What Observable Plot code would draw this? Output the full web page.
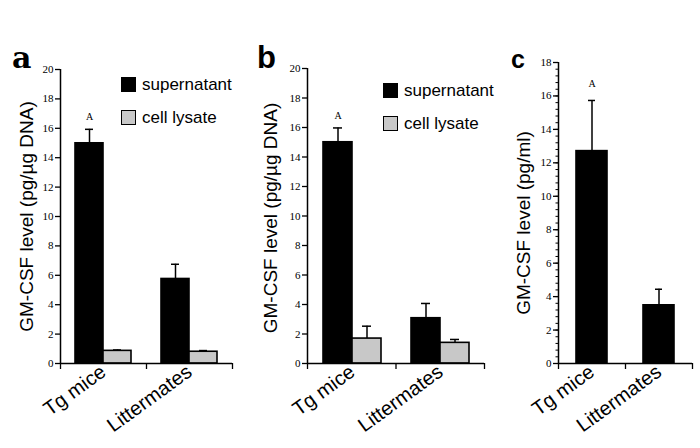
<!DOCTYPE html>
<html>
<head>
<meta charset="utf-8">
<script src="https://cdn.jsdelivr.net/npm/d3@7"></script>
<script src="https://cdn.jsdelivr.net/npm/@observablehq/plot@0.6"></script>
<style>
  body { margin: 0; background: #fff; }
  #fig { position: relative; width: 700px; height: 448px; background: #fff; overflow: hidden;
         font-family: "Liberation Sans", Arial, sans-serif; color: #000; }
  .layer { position: absolute; top: 0; }
  .letter { position: absolute; font-weight: bold; line-height: 1; white-space: nowrap; }
  .legend { position: absolute; font-size: 17px; line-height: 1; }
  .legend .row { display: flex; align-items: center; height: 15px; margin-bottom: 18px; white-space: nowrap; }
  .legend .sw { box-sizing: border-box; width: 15px; height: 15px; border: 1.5px solid #000; margin-right: 6px; }
</style>
</head>
<body>
<div id="fig"></div>
<script>
// Groups on the x axis and the two sample types
const groups = ["Tg mice", "Littermates"];
const seriesNames = ["supernatant", "cell lysate"];
const seriesColors = ["#000000", "#c8c8c8"];
const significance = ["A", ""];

// a: GM-CSF (pg/µg DNA)
const aSupernatant = [14.98, 5.75];
const aSupernatantErr = [0.95, 1.0];
const aLysate = [0.86, 0.8];
const aLysateErr = [0.06, 0.08];

// b: GM-CSF (pg/µg DNA)
const bSupernatant = [15.0, 3.07];
const bSupernatantErr = [0.97, 1.0];
const bLysate = [1.69, 1.4];
const bLysateErr = [0.84, 0.23];

// c: GM-CSF (pg/ml)
const cSupernatant = [12.7, 3.48];
const cSupernatantErr = [3.03, 0.96];

// Axis ticks
const yTicksAB = [0, 2, 4, 6, 8, 10, 12, 14, 16, 18, 20];
const yTicksC = [0, 2, 4, 6, 8, 10, 12, 14, 16, 18];
const yTitleAB = "GM-CSF level (pg/µg DNA)";
const yTitleC = "GM-CSF level (pg/ml)";

const fig = document.getElementById("fig");

function drawPanel(p) {
  const rows = groups.flatMap((g, i) =>
    p.series.map((s, j) => ({
      group: g,
      series: s,
      value: p.values[j][i],
      err: p.errors[j][i],
      label: j === 0 ? significance[i] : ""
    }))
  );
  const top = d => d.value + d.err;
  const dims = {
    width: p.width,
    height: 448,
    marginLeft: p.marginLeft,
    marginRight: p.marginRight,
    marginTop: p.marginTop,
    marginBottom: 85
  };

  // Bars, error bars, group labels
  const bars = Plot.plot({
    ...dims,
    style: { background: "transparent", overflow: "visible" },
    facet: { marginTop: 0, marginRight: 0, marginBottom: 0, marginLeft: 0 },
    fx: { domain: groups, padding: 0, label: null },
    x: { domain: p.series, paddingInner: 0, paddingOuter: p.paddingOuter, axis: null },
    y: { domain: [0, p.yMax], axis: null },
    color: { domain: seriesNames, range: seriesColors },
    marks: [
      Plot.barY(rows, { fx: "group", x: "series", y1: 0, y2: "value", fill: "series", stroke: "#000", strokeWidth: 1.6 }),
      Plot.ruleX(rows, { fx: "group", x: "series", y1: "value", y2: top, stroke: "#000", strokeWidth: 1.5 }),
      Plot.tickY(rows, { fx: "group", x: "series", y: top, inset: p.capInset, stroke: "#000", strokeWidth: 1.5 }),
      Plot.text(rows.filter(d => d.label), {
        fx: "group", x: "series", y: top, text: "label", dy: -p.labelGap,
        lineAnchor: "bottom", fontSize: 10, fontFamily: "Liberation Serif", fill: "#000"
      }),
      Plot.axisFx({
        anchor: "bottom", tickSize: 0, tickPadding: 6, tickRotate: -36,
        fontSize: 20, fontFamily: "Liberation Sans", fill: "#000", label: null
      })
    ]
  });

  // Axis lines, ticks and the y-axis title
  const axes = Plot.plot({
    ...dims,
    style: { background: "transparent", overflow: "visible" },
    x: { domain: [0, groups.length] },
    y: { domain: [0, p.yMax] },
    marks: [
      Plot.axisY({ ticks: p.yTicks, tickSize: 5, tickPadding: 2, fontSize: 11, fontFamily: "Liberation Serif",
                   stroke: "#000", fill: "#000", strokeWidth: 1.3, label: null }),
      p.minorTicks ? Plot.axisY({ ticks: p.minorTicks, tickSize: 2.5, fill: "none", stroke: "#000", strokeWidth: 1, label: null }) : null,
      Plot.axisX({ ticks: d3.range(groups.length + 1), tickSize: 6, fill: "none", stroke: "#000", strokeWidth: 1.3, label: null }),
      Plot.ruleY([0], { stroke: "#000", strokeWidth: 1.5 }),
      Plot.ruleX([0], { y1: 0, y2: p.yMax, stroke: "#000", strokeWidth: 1.5 }),
      Plot.text([p.title], { frameAnchor: "left", textAnchor: "middle", lineAnchor: "middle", rotate: -90,
                             dx: p.titleDx, dy: p.titleDy, fontSize: 19, fontFamily: "Liberation Sans", fill: "#000" })
    ]
  });

  for (const svg of [bars, axes]) {
    const holder = document.createElement("div");
    holder.className = "layer";
    holder.style.left = p.left + "px";
    holder.style.width = p.width + "px";
    holder.appendChild(svg);
    fig.appendChild(holder);
  }

  // Panel letter
  const letter = document.createElement("div");
  letter.className = "letter";
  letter.textContent = p.letter;
  Object.assign(letter.style, p.letterStyle);
  fig.appendChild(letter);

  // Legend
  if (p.legend) {
    const lg = document.createElement("div");
    lg.className = "legend";
    lg.style.left = p.legend.left + "px";
    lg.style.top = p.legend.top + "px";
    seriesNames.forEach((name, i) => {
      const row = document.createElement("div");
      row.className = "row";
      const sw = document.createElement("div");
      sw.className = "sw";
      sw.style.background = seriesColors[i];
      const tx = document.createElement("span");
      tx.textContent = name;
      row.appendChild(sw);
      row.appendChild(tx);
      lg.appendChild(row);
    });
    fig.appendChild(lg);
  }
}

drawPanel({
  letter: "a",
  letterStyle: { left: "12px", top: "43px", fontSize: "30px", fontFamily: "'DejaVu Serif', serif" },
  left: 0, width: 240, marginLeft: 60, marginRight: 8, marginTop: 69,
  yMax: 20, yTicks: yTicksAB, title: yTitleAB, titleDx: -34, titleDy: 0,
  series: seriesNames, values: [aSupernatant, aLysate], errors: [aSupernatantErr, aLysateErr],
  paddingOuter: 0.483, capInset: 10, labelGap: 9,
  legend: { left: 121, top: 77 }
});

drawPanel({
  letter: "b",
  letterStyle: { left: "257px", top: "42px", fontSize: "31px", fontFamily: "'Liberation Sans', sans-serif" },
  left: 240, width: 260, marginLeft: 67, marginRight: 16, marginTop: 68,
  yMax: 20, yTicks: yTicksAB, title: yTitleAB, titleDx: -37, titleDy: 2,
  series: seriesNames, values: [bSupernatant, bLysate], errors: [bSupernatantErr, bLysateErr],
  paddingOuter: 0.475, capInset: 10, labelGap: 9,
  legend: { left: 383, top: 83 }
});

drawPanel({
  letter: "c",
  letterStyle: { left: "511px", top: "47px", fontSize: "25px", fontFamily: "'Liberation Sans', sans-serif" },
  left: 500, width: 200, marginLeft: 58, marginRight: 8, marginTop: 62,
  yMax: 18, yTicks: yTicksC, minorTicks: d3.range(0, 18.001, 0.4), title: yTitleC, titleDx: -35, titleDy: 10,
  series: [seriesNames[0]], values: [cSupernatant], errors: [cSupernatantErr],
  paddingOuter: 0.56, capInset: 12, labelGap: 13,
  legend: null
});
</script>
</body>
</html>
